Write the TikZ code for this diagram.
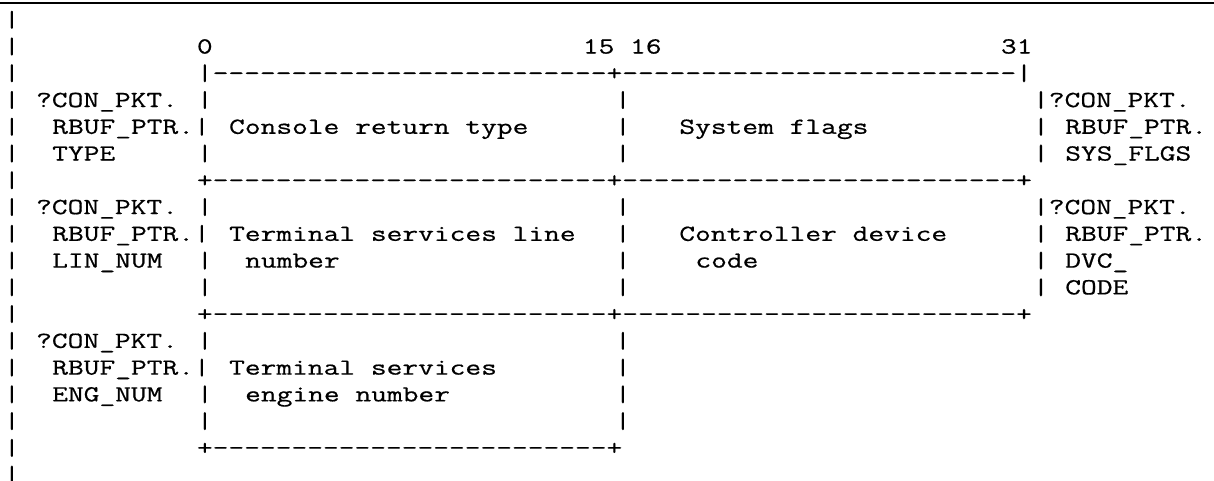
\documentclass[tikz,border=0pt]{standalone}
\usepackage{fontspec}
\newfontfamily\mono[FakeStretch=1.33,FakeBold=0.6,Ligatures=TeXOff]{Latin Modern Mono}
\tikzset{
  txt/.style={anchor=base west, inner sep=0pt, outer sep=0pt,
    font=\mono\bfseries\fontsize{11.5pt}{12pt}\selectfont},
  toprule/.style={line width=1pt},
}
% place text at a character column / text row of the listing
\newcommand\cell[3]{\node[txt] (c-#2-#1) at ({#1+0.249},{#2+1}) {#3};}
\newcommand\dashrun{-------------------------}
\begin{document}
\begin{tikzpicture}[x=8.04pt,y=-13.38pt]
\useasboundingbox (0,0) rectangle (75.5,17.94);
\coordinate (ruleL) at (0,0.13);
\coordinate (ruleR) at (75.5,0.13);
\draw[toprule] (ruleL) -- (ruleR);

% left margin bar
\foreach \r in {0,...,17} {\cell{0}{\r}{|}}

% bit numbers
\cell{12}{1}{0}
\cell{36}{1}{15 16}
\cell{62}{1}{31}

% first longword
\cell{12}{2}{|\dashrun+\dashrun|}
\cell{2}{3}{?CON\_PKT.}
\cell{12}{3}{|}
\cell{38}{3}{|}
\cell{64}{3}{|?CON\_PKT.}
\cell{3}{4}{RBUF\_PTR.|}
\cell{14}{4}{Console return type}
\cell{38}{4}{|}
\cell{42}{4}{System flags}
\cell{64}{4}{|}
\cell{66}{4}{RBUF\_PTR.}
\cell{3}{5}{TYPE}
\cell{12}{5}{|}
\cell{38}{5}{|}
\cell{64}{5}{|}
\cell{66}{5}{SYS\_FLGS}

% second longword
\cell{12}{6}{+\dashrun+\dashrun+}
\cell{2}{7}{?CON\_PKT.}
\cell{12}{7}{|}
\cell{38}{7}{|}
\cell{64}{7}{|?CON\_PKT.}
\cell{3}{8}{RBUF\_PTR.|}
\cell{14}{8}{Terminal services line}
\cell{38}{8}{|}
\cell{42}{8}{Controller device}
\cell{64}{8}{|}
\cell{66}{8}{RBUF\_PTR.}
\cell{3}{9}{LIN\_NUM}
\cell{12}{9}{|}
\cell{15}{9}{number}
\cell{38}{9}{|}
\cell{43}{9}{code}
\cell{64}{9}{|}
\cell{66}{9}{DVC\_}
\cell{12}{10}{|}
\cell{38}{10}{|}
\cell{64}{10}{|}
\cell{66}{10}{CODE}

% third word
\cell{12}{11}{+\dashrun+\dashrun+}
\cell{2}{12}{?CON\_PKT.}
\cell{12}{12}{|}
\cell{38}{12}{|}
\cell{3}{13}{RBUF\_PTR.|}
\cell{14}{13}{Terminal services}
\cell{38}{13}{|}
\cell{3}{14}{ENG\_NUM}
\cell{12}{14}{|}
\cell{15}{14}{engine number}
\cell{38}{14}{|}
\cell{12}{15}{|}
\cell{38}{15}{|}
\cell{12}{16}{+\dashrun+}
\end{tikzpicture}
\end{document}
